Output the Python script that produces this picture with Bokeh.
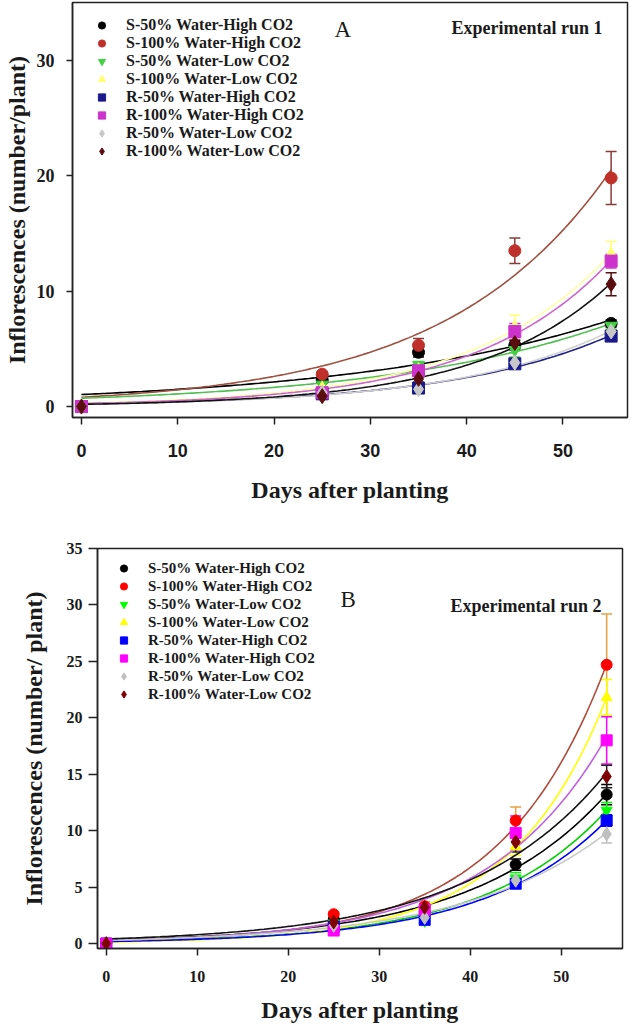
import numpy as np
from bokeh.plotting import figure
from bokeh.models import (Range1d, Whisker, TeeHead, ColumnDataSource, Legend,
                          LegendItem, Label)
from bokeh.layouts import column, row
from bokeh.embed import file_html
from bokeh.resources import INLINE

# ---------------- data ----------------
days = [0, 25, 35, 45, 55]
labels = ["S-50% Water-High CO2", "S-100% Water-High CO2", "S-50% Water-Low CO2",
          "S-100% Water-Low CO2", "R-50% Water-High CO2", "R-100% Water-High CO2",
          "R-50% Water-Low CO2", "R-100% Water-Low CO2"]
markers = ["circle", "circle", "inverted_triangle", "triangle",
           "square", "square", "diamond", "diamond"]

# Experimental run 1 (means, standard errors)
run1_means = [
    [0.0, 2.3, 4.7, 5.3, 7.2],
    [0.0, 2.8, 5.3, 13.5, 19.8],
    [0.0, 1.9, 3.6, 4.9, 7.0],
    [0.0, 1.6, 3.2, 6.9, 13.2],
    [0.0, 1.1, 1.6, 3.7, 6.1],
    [0.0, 1.2, 3.1, 6.5, 12.6],
    [0.0, 1.2, 1.5, 3.8, 6.5],
    [0.0, 0.9, 2.4, 5.5, 10.6],
]
run1_err = [
    [0.1, 0.2, 0.4, 0.4, 0.3],
    [0.1, 0.2, 0.6, 1.1, 2.3],
    [0.1, 0.2, 0.3, 0.6, 0.3],
    [0.1, 0.2, 0.4, 1.0, 1.1],
    [0.1, 0.1, 0.2, 0.3, 0.3],
    [0.1, 0.2, 0.4, 0.7, 0.6],
    [0.1, 0.1, 0.3, 0.4, 0.5],
    [0.1, 0.2, 0.3, 0.5, 1.0],
]

# Experimental run 2
run2_means = [
    [0.0, 2.1, 2.8, 7.0, 13.2],
    [0.0, 2.6, 3.3, 10.9, 24.7],
    [0.0, 1.8, 2.0, 5.8, 11.8],
    [0.0, 1.7, 3.0, 8.6, 21.8],
    [0.0, 1.5, 2.1, 5.3, 10.9],
    [0.0, 1.15, 3.0, 9.8, 18.0],
    [0.0, 1.6, 2.3, 5.6, 9.7],
    [0.0, 1.9, 3.2, 9.0, 14.8],
]
run2_err = [
    [0.05, 0.2, 0.3, 0.5, 0.9],
    [0.05, 0.2, 0.4, 1.2, 4.5],
    [0.05, 0.2, 0.3, 0.5, 0.7],
    [0.05, 0.2, 0.3, 0.8, 1.6],
    [0.05, 0.1, 0.2, 0.4, 0.5],
    [0.05, 0.2, 0.3, 1.5, 2.1],
    [0.05, 0.2, 0.3, 0.4, 0.8],
    [0.05, 0.2, 0.3, 0.9, 1.0],
]

# ---------------- styles ----------------
run1_marker_colors = ["#000000", "#C0302A", "#44D044", "#FFFF70",
                      "#1A1A8C", "#CC33CC", "#C8C8C8", "#5A0E0E"]
run1_line_colors = ["#000000", "#A05040", "#50C050", "#FFFFA8",
                    "#202088", "#CC66CC", "#D0D0D0", "#111111"]
run1_err_colors = ["#000000", "#8B3A3A", "#44D044", "#FFFF70",
                   "#1A1A8C", "#CC33CC", "#C8C8C8", "#5A0E0E"]

run2_marker_colors = ["#000000", "#FF0000", "#00FF00", "#FFFF00",
                      "#0000FF", "#FF00FF", "#C0C0C0", "#7F0000"]
run2_line_colors = ["#000000", "#B04A3A", "#00D000", "#FFFF00",
                    "#0000FF", "#C060E0", "#C8C8C8", "#111111"]
run2_err_colors = ["#000000", "#E8A040", "#00FF00", "#FFFF00",
                   "#0000FF", "#FF00FF", "#C0C0C0", "#202020"]

SERIF = "Liberation Serif"
SANS = "Liberation Sans"


def exp_fit(x, y):
    """Least-squares fit of y = a*exp(b*x) (SigmaPlot style growth curve)."""
    x = np.asarray(x, float)
    y = np.asarray(y, float)
    best = (np.inf, 0.0, 0.0)
    for b in np.linspace(0.0005, 0.2, 4000):
        e = np.exp(b * x)
        a = float(y @ e) / float(e @ e)
        sse = float(((y - a * e) ** 2).sum())
        if sse < best[0]:
            best = (sse, a, b)
    return best[1], best[2]


def make_panel(means, errs, mcolors, lcolors, ecolors, *, width, height,
               border, xr, yr, yticks, msize, tick_font, ytick_font, tick_size,
               ytitle, title_size, ylab_standoff, xlab_standoff, xtick_standoff,
               ytick_standoff, ytick_out, legend_loc, legend_standoff,
               legend_font, letter, letter_pos, exp_text, exp_pos):
    p = figure(width=width, height=height, output_backend="svg",
               toolbar_location=None, x_range=Range1d(*xr), y_range=Range1d(*yr),
               min_border_left=border[0], min_border_right=border[1],
               min_border_top=border[2], min_border_bottom=border[3])
    p.grid.visible = False
    p.outline_line_color = "#222222"
    p.outline_line_width = 1.5
    p.background_fill_color = "white"
    p.border_fill_color = "white"

    xs = np.linspace(0, 55, 150)
    items = []
    for i in range(len(means)):
        a, b = exp_fit(days, means[i])
        p.line(xs, a * np.exp(b * xs), line_color=lcolors[i], line_width=1.6)
    for i in range(len(means)):
        m = np.asarray(means[i])
        e = np.asarray(errs[i])
        src = ColumnDataSource(dict(x=days, upper=m + e, lower=m - e))
        w = Whisker(source=src, base="x", upper="upper", lower="lower",
                    line_color=ecolors[i], line_width=1.5,
                    upper_head=TeeHead(size=11, line_color=ecolors[i], line_width=1.5),
                    lower_head=TeeHead(size=11, line_color=ecolors[i], line_width=1.5))
        p.add_layout(w)
    for i in range(len(means)):
        sz = msize * (1.25 if markers[i] == "diamond" else 1.0)
        r = p.scatter(days, means[i], marker=markers[i], size=sz,
                      fill_color=mcolors[i], line_color=mcolors[i])
        items.append(LegendItem(label=labels[i], renderers=[r]))

    legend = Legend(items=items, location=legend_loc, padding=0, margin=0,
                    glyph_width=25, glyph_height=18, label_height=18, spacing=0,
                    label_standoff=legend_standoff,
                    label_text_font=SERIF, label_text_font_style="bold",
                    label_text_font_size=legend_font, label_text_color="#1a1a1a",
                    border_line_alpha=0, background_fill_alpha=0)
    p.add_layout(legend, "center")

    p.xaxis.ticker = [0, 10, 20, 30, 40, 50]
    p.yaxis.ticker = yticks
    for ax in (p.xaxis[0], p.yaxis[0]):
        ax.axis_line_color = "#222222"
        ax.axis_line_width = 1.5
        ax.major_tick_line_color = "#222222"
        ax.major_tick_line_width = 1.5
        ax.major_tick_in = 0
        ax.minor_tick_in = 0
        ax.minor_tick_out = 0
        ax.major_label_text_font_style = "bold"
        ax.major_label_text_color = "#1a1a1a"
        ax.major_label_text_font_size = tick_size
        ax.axis_label_text_font = SERIF
        ax.axis_label_text_font_style = "bold"
        ax.axis_label_text_font_size = title_size
        ax.axis_label_text_color = "#1a1a1a"
    p.xaxis.major_tick_out = 7
    p.yaxis.major_tick_out = ytick_out
    p.xaxis.major_label_text_font = tick_font
    p.yaxis.major_label_text_font = ytick_font
    p.xaxis.axis_label = "Days after planting"
    p.yaxis.axis_label = ytitle
    p.xaxis.axis_label_standoff = xlab_standoff
    p.yaxis.axis_label_standoff = ylab_standoff
    p.xaxis.major_label_standoff = xtick_standoff
    p.yaxis.major_label_standoff = ytick_standoff

    p.add_layout(Label(x=letter_pos[0], y=letter_pos[1], x_units="screen",
                       y_units="screen", text=letter, text_font=SERIF,
                       text_font_size="23px", text_baseline="middle",
                       text_color="#1a1a1a"))
    p.add_layout(Label(x=exp_pos[0], y=exp_pos[1], x_units="screen",
                       y_units="screen", text=exp_text, text_font=SERIF,
                       text_font_style="bold", text_font_size="18px",
                       text_baseline="middle", text_color="#1a1a1a"))
    return p


pA = make_panel(run1_means, run1_err, run1_marker_colors, run1_line_colors,
                run1_err_colors, width=629, height=520,
                border=(68, 2, 2, 103), xr=(-0.93, 56.7), yr=(-0.95, 35.0),
                yticks=[0, 10, 20, 30], msize=12, tick_font=SANS, ytick_font=SERIF,
                tick_size="18px", ytitle="Inflorescences (number/plant)",
                title_size="24px", ylab_standoff=4, xlab_standoff=17,
                xtick_standoff=19, ytick_standoff=12, ytick_out=6,
                legend_loc=(17, 257), legend_standoff=12, legend_font="16px",
                letter="A", letter_pos=(262, 388),
                exp_text="Experimental run 1", exp_pos=(379, 390))

pB = make_panel(run2_means, run2_err, run2_marker_colors, run2_line_colors,
                run2_err_colors, width=629, height=511,
                border=(97, 7, 28, 83), xr=(-0.96, 56.74), yr=(-0.44, 35),
                yticks=[0, 5, 10, 15, 20, 25, 30, 35], msize=11, tick_font=SERIF,
                ytick_font=SERIF, tick_size="16px",
                ytitle="Inflorescences (number/ plant)", title_size="24px",
                ylab_standoff=17, xlab_standoff=12, xtick_standoff=15,
                ytick_standoff=6, ytick_out=9,
                legend_loc=(14, 245), legend_standoff=12, legend_font="15px",
                letter="B", letter_pos=(243, 349),
                exp_text="Experimental run 2", exp_pos=(353, 343))

# each panel in its own row so the two frames are not forced into alignment
layout = column(row(pA), row(pB))
open("out.html", "w").write(file_html(layout, INLINE))
